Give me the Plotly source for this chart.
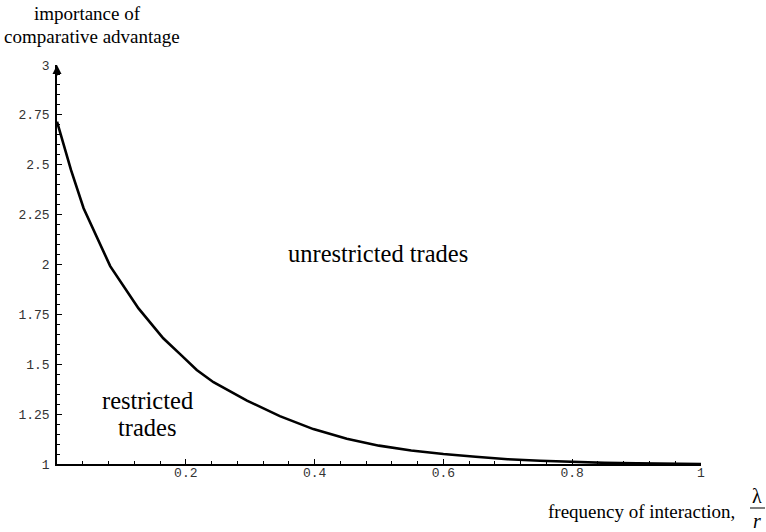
import plotly.graph_objects as go

# curve
freq = [0, 0.0217, 0.0413, 0.0826, 0.1266, 0.165, 0.192, 0.217, 0.243, 0.295,
        0.346, 0.398, 0.45, 0.5, 0.55, 0.6, 0.65, 0.7, 0.75, 0.8, 0.85, 0.9,
        0.95, 1.0]
importance = [2.716, 2.474, 2.282, 1.992, 1.780, 1.630, 1.548, 1.471, 1.410,
              1.318, 1.240, 1.175, 1.126, 1.092, 1.068, 1.050, 1.036, 1.024,
              1.016, 1.010, 1.006, 1.003, 1.001, 1.000]

x_tickvals = [0.2, 0.4, 0.6, 0.8, 1]
x_ticktext = ["0.2", "0.4", "0.6", "0.8", "1"]
y_tickvals = [1, 1.25, 1.5, 1.75, 2, 2.25, 2.5, 2.75, 3]
y_ticktext = ["1", "1.25", "1.5", "1.75", "2", "2.25", "2.5", "2.75", "3"]

W, H = 766, 532
L, R, T, B = 57, 65, 65, 68
PW, PH = W - L - R, H - T - B


def px(x):
    return (x - L) / PW


def py(y):
    return (H - B - y) / PH


fig = go.Figure()
fig.add_trace(go.Scatter(x=freq, y=importance, mode="lines",
                         line=dict(color="black", width=2.6),
                         hoverinfo="skip", showlegend=False))

mono = "Liberation Mono"
serif = "Liberation Serif"
tickfont = dict(family=mono, size=13, color="#333")

fig.update_layout(
    width=W, height=H,
    margin=dict(l=L, r=R, t=T, b=B),
    paper_bgcolor="white", plot_bgcolor="white",
    font=dict(family=serif, color="black"),
    xaxis=dict(range=[0, 1], showgrid=False, zeroline=False,
               showline=True, linecolor="black", linewidth=1.5,
               ticks="inside", ticklen=5, tickwidth=1, tickcolor="black",
               tickvals=x_tickvals, ticktext=x_ticktext, tickfont=tickfont,
               ticklabelstandoff=-4,
               minor=dict(dtick=0.04, tick0=0, ticks="inside", ticklen=3,
                          tickcolor="black", showgrid=False)),
    yaxis=dict(range=[1, 3], showgrid=False, zeroline=False,
               showline=True, linecolor="black", linewidth=1.5,
               ticks="inside", ticklen=5, tickwidth=1, tickcolor="black",
               tickvals=y_tickvals, ticktext=y_ticktext, tickfont=tickfont,
               ticklabelstandoff=3,
               minor=dict(dtick=0.05, tick0=1, ticks="inside", ticklen=3,
                          tickcolor="black", showgrid=False)),
)

# arrow on y axis
fig.add_annotation(x=0, y=3, xref="x", yref="y", ax=0, ay=12,
                   axref="pixel", ayref="pixel", showarrow=True,
                   arrowhead=2, arrowsize=1.2, arrowwidth=1.5, arrowcolor="black",
                   text="")


def label(text, cx, cy, size, xanchor="center"):
    fig.add_annotation(x=px(cx), y=py(cy), xref="paper", yref="paper",
                       text=text, showarrow=False,
                       font=dict(family=serif, size=size, color="black"),
                       xanchor=xanchor, yanchor="middle")


# axis titles
label("importance of", 87, 14, 19)
label("comparative advantage", 92, 36, 19)
label("frequency of interaction,", 737, 511, 19, xanchor="right")
label("λ", 757, 496, 20)
label("<i>r</i>", 757, 521, 20)
fig.add_shape(type="line", xref="paper", yref="paper",
              x0=px(750), x1=px(765), y0=py(508), y1=py(508),
              line=dict(color="black", width=1))

# region labels
label("unrestricted trades", 378, 253, 24.5)
label("restricted", 147, 400, 24.5)
label("trades", 147, 427, 24.5)

fig.write_html("out.html", config={"displayModeBar": False},
               post_script="document.body.style.margin='0px';")
